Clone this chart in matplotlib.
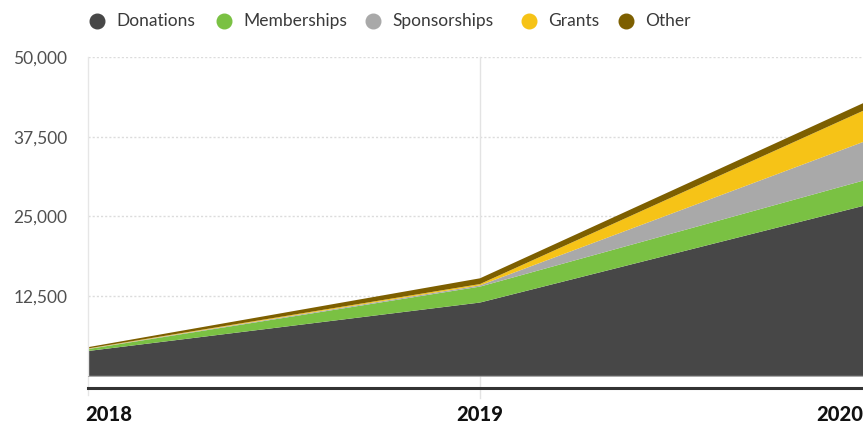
import matplotlib
matplotlib.use("Agg")
import matplotlib.pyplot as plt
import matplotlib.transforms as mtrans
from matplotlib.lines import Line2D

years = [2018, 2019, 2020]
series_names = ["Donations", "Memberships", "Sponsorships", "Grants", "Other"]
donations = [3900, 11500, 27000]
memberships = [300, 2500, 4000]
sponsorships = [50, 200, 6200]
grants = [50, 200, 5000]
other = [200, 900, 1200]
y_ticks = [12500, 25000, 37500, 50000]
y_labels = ["12,500", "25,000", "37,500", "50,000"]
x_labels = ["2018", "2019", "2020"]

colors = ["#474747", "#7ac143", "#a9a9a9", "#f6c317", "#7d5f00"]

plt.rcParams['font.family'] = ['Lato', 'DejaVu Sans']
fig = plt.figure(figsize=(8.63, 4.24), dpi=100)
W, H = 863, 424
ax = fig.add_axes([88 / W, 36 / H, 784 / W, 331 / H])

ax.stackplot(years, donations, memberships, sponsorships, grants, other,
             colors=colors, linewidth=0, zorder=2)

ax.set_xlim(2018, 2020)
ax.set_ylim(-1900, 50000)

ax.set_yticks(y_ticks)
ax.set_yticklabels(y_labels, fontsize=12.5, color="#505050")
ax.set_xticks(years)
ax.set_xticklabels(x_labels, fontsize=14.5, fontweight="black", color="#111111")
ax.tick_params(axis="both", length=0)
ax.tick_params(axis="y", pad=15)
ax.tick_params(axis="x", pad=12)
lbls = ax.get_xticklabels()
lbls[0].set_ha("left")
lbls[0].set_transform(lbls[0].get_transform() +
                      mtrans.ScaledTranslation(-3 / 100, 0, fig.dpi_scale_trans))
lbls[2].set_ha("right")
lbls[2].set_transform(lbls[2].get_transform() +
                      mtrans.ScaledTranslation(-9 / 100, 0, fig.dpi_scale_trans))

for y in y_ticks:
    ax.axhline(y, color="#dcdcdc", lw=1.0, ls=(0, (1.5, 1.5)), zorder=1)
ax.axvline(2019, color="#e3e3e3", lw=1.0, zorder=1, ymin=-0.03, clip_on=False)
ax.axhline(0, color="#9a9a9a", lw=0.6, zorder=3)

for s in ["top", "right"]:
    ax.spines[s].set_visible(False)
ax.spines["left"].set_color("#e6e6e6")
ax.spines["left"].set_linewidth(1.0)
ax.spines["left"].set_bounds(-3000, 50000)
ax.spines["left"].set_clip_on(False)
ax.spines["bottom"].set_color("#333333")
ax.spines["bottom"].set_linewidth(2.2)

# legend, laid out by hand
marker_x = [97, 224, 373, 529, 626]
legend_y = 1 - 21 / H
for mx, c, name in zip(marker_x, colors, series_names):
    fig.add_artist(Line2D([mx / W], [legend_y], marker="o", ls="", markersize=10.5,
                          markerfacecolor=c, markeredgecolor=c,
                          transform=fig.transFigure))
    fig.text((mx + 19) / W, legend_y, name, fontsize=12.5, color="#3a3a3a",
             ha="left", va="center")

fig.savefig("out.png", dpi=100)
